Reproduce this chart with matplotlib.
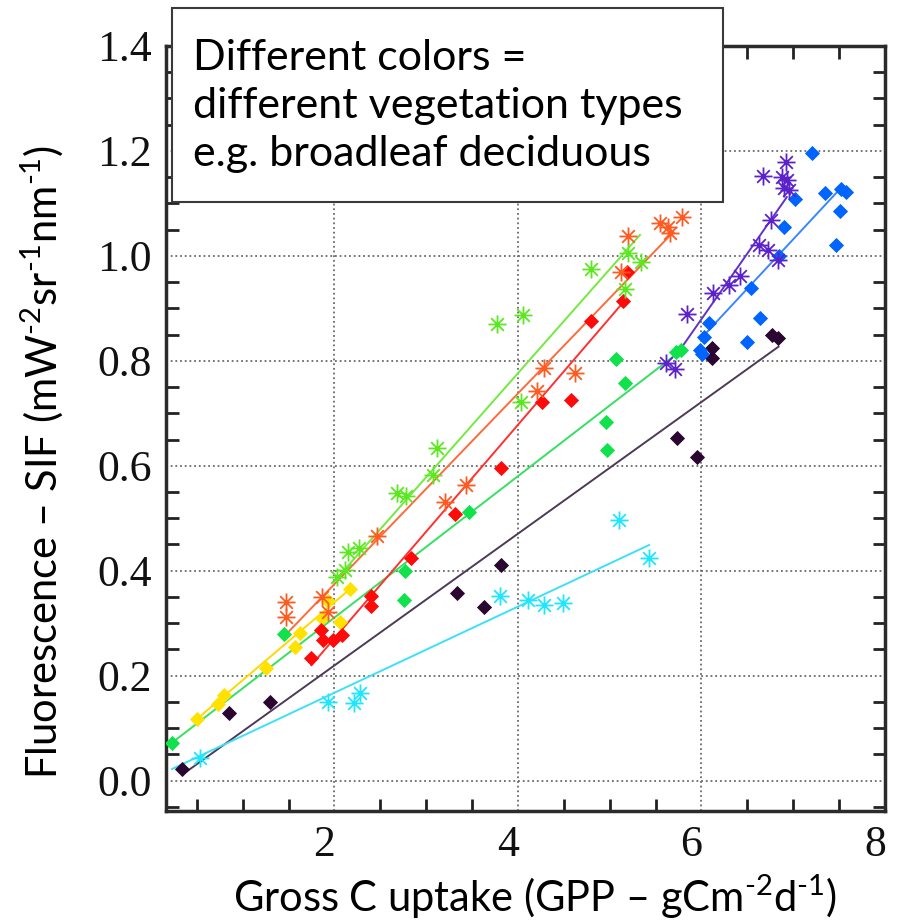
import numpy as np
import matplotlib.pyplot as plt
from matplotlib.path import Path
from matplotlib.patches import Rectangle
from matplotlib.ticker import MultipleLocator, FixedLocator, FormatStrFormatter
from matplotlib.transforms import ScaledTranslation

plt.rcParams['mathtext.fontset'] = 'custom'
plt.rcParams['mathtext.rm'] = 'Lato'
plt.rcParams['mathtext.it'] = 'Lato:italic'

# GPP (x) vs SIF (y), one set per vegetation type
yellow_x = [0.50, 0.73, 0.80, 1.25, 1.575, 1.63, 1.86, 1.93, 2.06, 2.17]
yellow_y = [0.117, 0.146, 0.163, 0.214, 0.255, 0.281, 0.310, 0.342, 0.303, 0.365]
yellow_fit_x = [0.50, 2.17]
yellow_fit_y = [0.117, 0.365]

green_x = [0.23, 1.45, 2.77, 2.76, 3.47, 4.96, 4.97, 5.07, 5.17, 5.72, 5.78]
green_y = [0.072, 0.279, 0.400, 0.345, 0.511, 0.684, 0.630, 0.803, 0.757, 0.817, 0.820]
green_fit_x = [0.23, 5.78]
green_fit_y = [0.072, 0.820]

red_x = [1.75, 1.85, 1.88, 1.98, 2.08, 2.40, 2.40, 2.83, 3.31, 3.82, 4.26, 4.58, 4.80, 5.14, 5.19]
red_y = [0.234, 0.287, 0.267, 0.267, 0.278, 0.352, 0.332, 0.425, 0.509, 0.596, 0.721, 0.725, 0.876, 0.914, 0.970]
red_fit_x = [1.75, 5.14]
red_fit_y = [0.220, 0.910]

orange_x = [1.47, 1.47, 1.86, 1.93, 2.46, 3.21, 3.43, 4.21, 4.28, 4.62, 5.12, 5.20, 5.55, 5.63, 5.66, 5.79]
orange_y = [0.340, 0.312, 0.350, 0.322, 0.466, 0.530, 0.563, 0.743, 0.786, 0.776, 0.970, 1.037, 1.063, 1.055, 1.044, 1.074]
orange_fit_x = [1.47, 5.68]
orange_fit_y = [0.278, 1.043]

lgreen_x = [2.03, 2.12, 2.15, 2.27, 2.68, 2.78, 3.07, 3.12, 3.77, 4.03, 4.06, 4.80, 5.17, 5.20, 5.34]
lgreen_y = [0.388, 0.401, 0.436, 0.443, 0.549, 0.542, 0.582, 0.633, 0.871, 0.722, 0.887, 0.975, 0.936, 1.005, 0.989]
lgreen_fit_x = [1.99, 5.33]
lgreen_fit_y = [0.378, 1.040]

dark_x = [0.34, 0.85, 1.30, 3.34, 3.63, 3.82, 5.73, 5.95, 6.12, 6.12, 6.77, 6.83]
dark_y = [0.022, 0.128, 0.150, 0.358, 0.331, 0.411, 0.652, 0.617, 0.824, 0.805, 0.849, 0.843]
dark_fit_x = [0.34, 6.84]
dark_fit_y = [0.011, 0.827]

cyan_x = [0.54, 1.93, 2.21, 2.28, 3.80, 4.11, 4.28, 4.49, 5.10, 5.43]
cyan_y = [0.043, 0.150, 0.147, 0.166, 0.352, 0.345, 0.335, 0.339, 0.497, 0.425]
cyan_fit_x = [0.23, 5.43]
cyan_fit_y = [0.022, 0.449]

purple_x = [5.61, 5.71, 5.84, 6.13, 6.30, 6.42, 6.63, 6.72, 6.83, 6.76, 6.67, 6.92, 6.88, 6.93, 6.90, 6.95]
purple_y = [0.795, 0.784, 0.889, 0.930, 0.944, 0.961, 1.020, 1.011, 0.992, 1.068, 1.152, 1.179, 1.150, 1.145, 1.130, 1.125]
purple_fit_x = [5.79, 6.93]
purple_fit_y = [0.827, 1.112]

blue_x = [5.98, 6.01, 6.03, 6.08, 6.50, 6.54, 6.64, 6.84, 6.90, 7.02, 7.20, 7.35, 7.52, 7.57, 7.51, 7.47]
blue_y = [0.820, 0.813, 0.846, 0.872, 0.836, 0.938, 0.881, 0.999, 1.055, 1.108, 1.196, 1.119, 1.128, 1.122, 1.086, 1.020]
blue_fit_x = [6.04, 7.48]
blue_fit_y = [0.851, 1.122]

x_ticks = [2, 4, 6, 8]

# IDL style asterisk: + and x on top of each other
asterisk = Path([(-1, 0), (1, 0), (0, -1), (0, 1),
                 (-0.7, -0.7), (0.7, 0.7), (-0.7, 0.7), (0.7, -0.7)],
                [Path.MOVETO, Path.LINETO] * 4)

series = [
    (yellow_x, yellow_y, yellow_fit_x, yellow_fit_y, 'D', '#ffe200', '#ffd800'),
    (green_x, green_y, green_fit_x, green_fit_y, 'D', '#0fe24a', '#35e060'),
    (dark_x, dark_y, dark_fit_x, dark_fit_y, 'D', '#2a0630', '#4c3a58'),
    (cyan_x, cyan_y, cyan_fit_x, cyan_fit_y, asterisk, '#1ee6ff', '#3ee0f5'),
    (red_x, red_y, red_fit_x, red_fit_y, 'D', '#ff0a0a', '#ff3030'),
    (orange_x, orange_y, orange_fit_x, orange_fit_y, asterisk, '#ff5a20', '#ff6a3a'),
    (lgreen_x, lgreen_y, lgreen_fit_x, lgreen_fit_y, asterisk, '#5ce820', '#72ea40'),
    (blue_x, blue_y, blue_fit_x, blue_fit_y, 'D', '#0064ff', '#3a86ff'),
    (purple_x, purple_y, purple_fit_x, purple_fit_y, asterisk, '#5a22c8', '#6232c8'),
]

fig = plt.figure(figsize=(8.97, 9.22), dpi=100)
ax = fig.add_axes([166 / 897, 1 - 811 / 922, 719 / 897, 765 / 922])

for xs, ys, fx, fy, mk, col, lcol in series:
    ax.plot(fx, fy, '-', color=lcol, linewidth=1.4, zorder=3)
    if mk == 'D':
        ax.plot(xs, ys, linestyle='none', marker='D', markersize=7.5,
                color=col, markeredgecolor=col, markeredgewidth=0.6, zorder=4)
    else:
        ax.plot(xs, ys, linestyle='none', marker=mk, markersize=13,
                markerfacecolor='none', markeredgecolor=col, markeredgewidth=1.3, zorder=4)

ax.set_xlim(0.165, 8.0)
ax.set_ylim(-0.058, 1.40)
ax.xaxis.set_major_locator(FixedLocator(x_ticks))
ax.xaxis.set_minor_locator(MultipleLocator(0.5))
ax.yaxis.set_major_locator(MultipleLocator(0.2))
ax.yaxis.set_minor_locator(MultipleLocator(0.05))
ax.yaxis.set_major_formatter(FormatStrFormatter('%.1f'))

ax.tick_params(which='major', length=0, pad=10, labelsize=31.5)
ax.tick_params(which='minor', direction='in', length=9, width=2, color='#222222',
               top=True, right=True)
for lab in ax.get_xticklabels() + ax.get_yticklabels():
    lab.set_family('Liberation Serif')
    lab.set_color('#111111')
for lab in ax.get_xticklabels():
    lab.set_transform(lab.get_transform() + ScaledTranslation(-0.1, 0, fig.dpi_scale_trans))

ax.grid(True, which='major', color='#6a6a6a', linestyle=(0, (1, 1.6)), linewidth=1.3)
ax.set_axisbelow(True)
for sp in ax.spines.values():
    sp.set_linewidth(2.5)
    sp.set_color('#2b2b2b')

# text box over the top left of the plot
box = Rectangle((172 / 897, 1 - 202 / 922), 551 / 897, 194 / 922, transform=fig.transFigure,
                facecolor='white', edgecolor='#3a3a3a', linewidth=1.5, zorder=5)
fig.add_artist(box)
fig.text(193 / 897, 1 - 106 / 922,
         'Different colors =\ndifferent vegetation types\ne.g. broadleaf deciduous',
         ha='left', va='center', fontsize=31, family='Lato', linespacing=1.32, zorder=6)

fig.text(42 / 897, 1 - 462 / 922,
         r'Fluorescence – SIF (mW$^{\text{-}2}$sr$^{\text{-}1}$nm$^{\text{-}1}$)',
         rotation=90, ha='center', va='center', fontsize=30, family='Lato')
fig.text(535 / 897, 1 - 912 / 922,
         r'Gross C uptake (GPP – gCm$^{\text{-}2}$d$^{\text{-}1}$)',
         ha='center', va='baseline', fontsize=30, family='Lato')

fig.savefig('out.png', dpi=100)
